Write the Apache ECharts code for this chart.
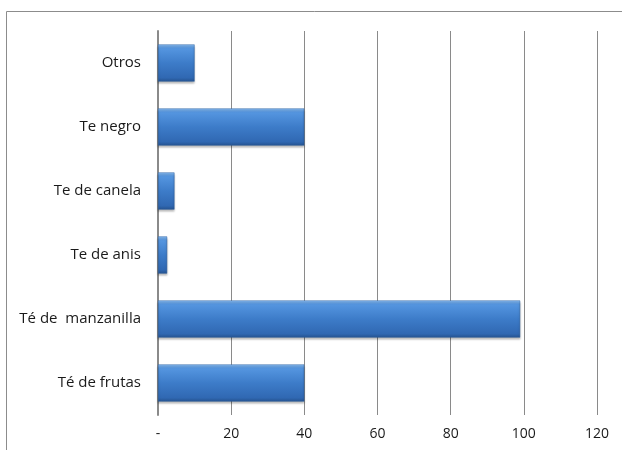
<!DOCTYPE html>
<html>
<head>
    <meta charset="utf-8">
    <title>Consumo de té</title>
    <script src="https://cdn.jsdelivr.net/npm/echarts@6/dist/echarts.min.js"></script>
    <style>
        body { margin: 0; background: #fff; }
        #chart { width: 622px; height: 450px; }
    </style>
</head>
<body>
<div id="chart"></div>
<script>
    // categorias de abajo hacia arriba (como en el eje de Excel)
    var categorias = ['Té de frutas', 'Té de  manzanilla', 'Te de anis', 'Te de canela', 'Te negro', 'Otros']
    var valores = [40, 99, 2.5, 4.5, 40, 10]
    var ticks = [0, 20, 40, 60, 80, 100, 120]

    var myChart = echarts.init(document.getElementById('chart'))

    myChart.setOption({
        animation: false,
        textStyle: { fontFamily: '"Open Sans", Lato, sans-serif' },
        // marco del grafico (cortado a la derecha y abajo)
        graphic: [{
            type: 'rect',
            shape: { x: 6.5, y: 11.5, width: 640, height: 460 },
            style: { fill: 'none', stroke: '#8c8c8c', lineWidth: 1 },
            silent: true
        }],
        grid: { left: 158, right: 25, top: 31, bottom: 35 },
        xAxis: {
            type: 'value',
            min: ticks[0],
            max: ticks[ticks.length - 1],
            interval: 20,
            axisLine: { show: false },
            axisTick: { show: false },
            splitLine: { show: true, lineStyle: { color: '#8a8a8a', width: 1 } },
            axisLabel: {
                color: '#1a1a1a',
                fontSize: 14,
                margin: 12,
                formatter: function (v) { return v === 0 ? '-' : String(v) }
            }
        },
        yAxis: {
            type: 'category',
            data: categorias,
            axisLine: { show: true, lineStyle: { color: '#8a8a8a', width: 2 } },
            axisTick: { show: false },
            axisLabel: { color: '#1a1a1a', fontSize: 15, margin: 17 }
        },
        series: [{
            type: 'bar',
            data: valores,
            barCategoryGap: '42%',
            itemStyle: {
                color: new echarts.graphic.LinearGradient(0, 0, 0, 1, [
                    { offset: 0, color: '#8cc0f2' },
                    { offset: 0.1, color: '#5596e0' },
                    { offset: 0.5, color: '#3d7cc9' },
                    { offset: 0.9, color: '#3068b2' },
                    { offset: 1, color: '#24528e' }
                ]),
                borderColor: '#2c5f9f',
                borderWidth: 0.5,
                shadowColor: 'rgba(0,0,0,0.3)',
                shadowBlur: 2,
                shadowOffsetY: 2
            }
        }]
    })
</script>
</body>
</html>
